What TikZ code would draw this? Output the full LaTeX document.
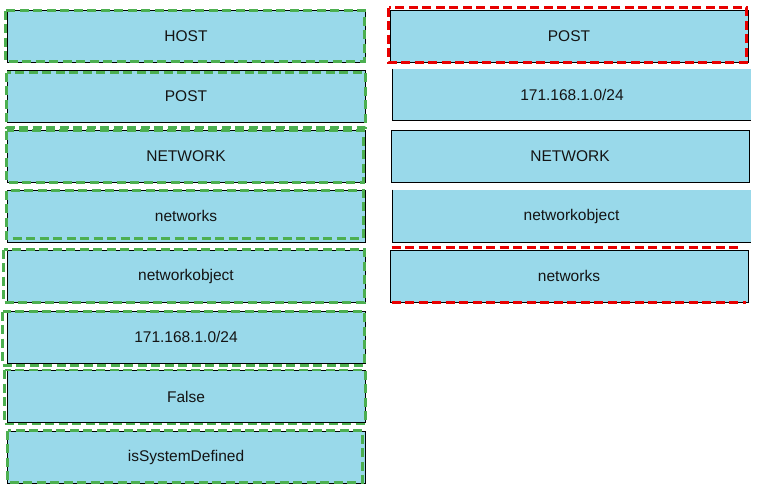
\documentclass[tikz,border=0pt]{standalone}
\usepackage{fontspec}
\setmainfont{Liberation Sans}
\usepackage{xcolor}
\definecolor{boxblue}{RGB}{153,217,234}
\definecolor{dashgreen}{RGB}{76,175,80}
\definecolor{dashred}{RGB}{232,0,0}
\definecolor{textdark}{RGB}{20,20,20}

\begin{document}
\begin{tikzpicture}[x=1pt, y=-1pt,
    box/.style={rectangle, fill=boxblue, draw=black, line width=0.9pt, minimum width=358pt, minimum height=52pt, inner sep=0pt, text=textdark, font=\fontsize{15.5}{18}\selectfont},
    flatbox/.style={box, draw=none},
    greendash/.style={draw=dashgreen, line width=2.5pt, dash pattern=on 9pt off 4.5pt},
    reddash/.style={draw=dashred, line width=2.5pt, dash pattern=on 9pt off 4.5pt}]
      \useasboundingbox[fill=white] (0,0) rectangle (759,489);

      % left column
      \node[box] (lhost) at (186,36) {HOST};
      \node[box] (lpost) at (186,96) {POST};
      \node[box] (lnet) at (186,156) {NETWORK};
      \node[box] (lnets) at (186,216) {networks};
      \node[box] (lnobj) at (186,276) {networkobject};
      \node[box] (lip) at (186,337) {171.168.1.0/24};
      \node[box] (lfalse) at (186,396.5) {False};
      \node[box] (lsys) at (186,457) {isSystemDefined};

      \draw[greendash] ([shift={(-1,1)}]lhost.north west) rectangle ([shift={(-1,-1)}]lhost.south east);
      \draw[greendash] ([shift={(0,3)}]lpost.north west) rectangle ([shift={(0,5)}]lpost.south east);
      \draw[greendash] ([shift={(0,1)}]lnet.north west) rectangle ([shift={(-2,0)}]lnet.south east);
      \draw[greendash] ([shift={(0,1)}]lnets.north west) rectangle ([shift={(-2,-4)}]lnets.south east);
      \draw[greendash] ([shift={(-3,0)}]lnobj.north west) rectangle ([shift={(-1,0)}]lnobj.south east);
      \draw[greendash] ([shift={(-4,1)}]lip.north west) rectangle ([shift={(-1,2)}]lip.south east);
      \draw[greendash] ([shift={(-2,0)}]lfalse.north west) rectangle ([shift={(0,1)}]lfalse.south east);
      \draw[greendash] ([shift={(1,0)}]lsys.north west) rectangle ([shift={(-3,-1)}]lsys.south east);

      % right column
      \node[box] (rpost) at (569,36) {POST};
      \node[flatbox, minimum height=51pt] (rip) at (572,94.5) {171.168.1.0/24};
      \node[box] (rnet) at (570,156) {NETWORK};
      \node[flatbox] (rnobj) at (571.5,216) {networkobject};
      \node[box] (rnets) at (569,276) {networks};

      \draw[line width=0.9pt] (rip.north west) -- (rip.south west) -- (rip.south east);
      \draw[line width=0.9pt] (rnobj.north west) -- (rnobj.south west) -- (rnobj.south east);

      \draw[reddash] ([shift={(-1,-2)}]rpost.north west) rectangle ([shift={(-2,0)}]rpost.south east);
      \draw[reddash] ([shift={(2,-2)}]rnets.north west) -- ([shift={(-6,-2)}]rnets.north east);
      \draw[reddash] ([shift={(2,0)}]rnets.south west) -- ([shift={(-2,0)}]rnets.south east);
\end{tikzpicture}
\end{document}
